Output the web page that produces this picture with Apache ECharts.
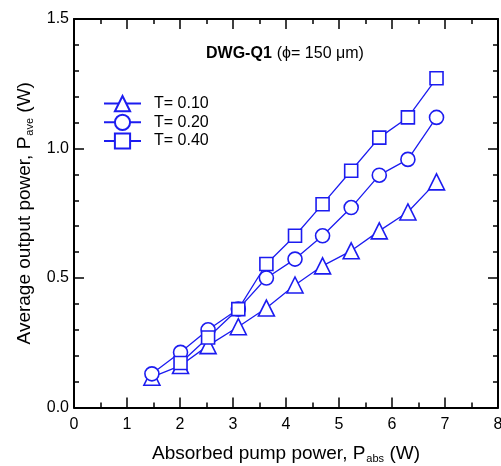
<!DOCTYPE html>
<html>
<head>
<meta charset="utf-8">
<script src="https://cdn.jsdelivr.net/npm/echarts@6/dist/echarts.min.js"></script>
<style>html,body{margin:0;padding:0;background:#fff;}#c{width:501px;height:466px;}</style>
</head>
<body>
<div id="c"></div>
<script>
const pumpPower = [1.47, 2.01, 2.53, 3.10, 3.63, 4.17, 4.69, 5.23, 5.76, 6.30, 6.84];
const outT010 = [0.117, 0.162, 0.239, 0.312, 0.384, 0.473, 0.547, 0.605, 0.682, 0.755, 0.871];
const outT020 = [0.130, 0.213, 0.300, 0.380, 0.500, 0.573, 0.663, 0.772, 0.897, 0.958, 1.120];
const outT040 = [null, 0.172, 0.270, 0.380, 0.554, 0.663, 0.785, 0.914, 1.042, 1.120, 1.271];
const seriesNames = ['T= 0.10', 'T= 0.20', 'T= 0.40'];
const xTicks = [0, 1, 2, 3, 4, 5, 6, 7, 8];
const yTicks = ['0.0', '0.5', '1.0', '1.5'];

const BLUE = '#1c1cf0';
const FONT = 'Liberation Sans, Arial, sans-serif';

function pairs(xs, ys) {
  const out = [];
  for (let i = 0; i < xs.length; i++) if (ys[i] !== null) out.push([xs[i], ys[i]]);
  return out;
}

const symbols = ['triangle', 'circle', 'rect'];
const sizes = [16, 14, 13];
const values = [outT010, outT020, outT040];

function axisBase(split) {
  return {
    axisLine: { show: true, onZero: false, lineStyle: { color: '#000', width: 2 } },
    axisTick: { show: true, inside: true, length: 10, lineStyle: { color: '#000', width: 1.5 } },
    minorTick: { show: true, splitNumber: split, length: 5, lineStyle: { color: '#000', width: 1.5 } },
    splitLine: { show: false },
    minorSplitLine: { show: false }
  };
}

const subRich = {
  m: { fontFamily: FONT, fontSize: 19, color: '#000', lineHeight: 22 },
  s: { fontFamily: FONT, fontSize: 11, color: '#000', verticalAlign: 'bottom', lineHeight: 11, padding: [16, 0, 0, 1] }
};

const chart = echarts.init(document.getElementById('c'), null, { renderer: 'canvas' });
chart.setOption({
  animation: false,
  backgroundColor: '#fff',
  textStyle: { fontFamily: FONT },
  title: {
    left: 201, top: 40,
    text: '{b|DWG-Q1} {n|(\u03D5= 150 \u03BCm)}',
    textStyle: {
      fontWeight: 'normal',
      rich: {
        b: { fontFamily: FONT, fontWeight: 'bold', fontSize: 16, color: '#000' },
        n: { fontFamily: FONT, fontWeight: 'normal', fontSize: 16, color: '#000' }
      }
    }
  },
  legend: {
    orient: 'vertical', left: 98, top: 90,
    itemWidth: 37, itemHeight: 19, itemGap: 1.5,
    data: seriesNames,
    textStyle: { fontFamily: FONT, fontSize: 16, color: '#000', padding: [0, 0, 0, 8] }
  },
  grid: { left: 74, right: 3, top: 19, bottom: 58.5, containLabel: false, outerBoundsMode: 'none' },
  xAxis: [
    Object.assign(axisBase(2), {
      type: 'value', min: xTicks[0], max: xTicks[xTicks.length - 1], interval: 1, position: 'bottom',
      axisLabel: { color: '#000', fontSize: 16, fontFamily: FONT, margin: 9 },
      name: '{m|Absorbed pump power, P}{s|abs}{m| (W)}',
      nameLocation: 'middle', nameGap: 26,
      nameTextStyle: { rich: subRich }
    }),
    Object.assign(axisBase(2), {
      type: 'value', min: xTicks[0], max: xTicks[xTicks.length - 1], interval: 1, position: 'top',
      axisLabel: { show: false }
    })
  ],
  yAxis: [
    Object.assign(axisBase(5), {
      type: 'value', min: 0, max: 1.5, interval: 0.5, position: 'left',
      axisLabel: { color: '#000', fontSize: 16, fontFamily: FONT, margin: 5,
        formatter: function (v) { return yTicks[Math.round(v / 0.5)]; } },
      name: '{m|Average output power, P}{s|ave}{m| (W)}',
      nameLocation: 'middle', nameGap: 36, nameRotate: 90,
      nameTextStyle: { rich: subRich }
    }),
    Object.assign(axisBase(5), {
      type: 'value', min: 0, max: 1.5, interval: 0.5, position: 'right',
      axisLabel: { show: false }
    })
  ],
  series: seriesNames.map(function (name, i) {
    return {
      name: name, type: 'line', xAxisIndex: 0, yAxisIndex: 0,
      data: pairs(pumpPower, values[i]),
      symbol: symbols[i], symbolSize: sizes[i],
      lineStyle: { color: BLUE, width: 1.3 },
      itemStyle: { color: '#fff', borderColor: BLUE, borderWidth: 1.6 },
      emphasis: { disabled: true },
      z: 2 + i
    };
  })
});
</script>
</body>
</html>
